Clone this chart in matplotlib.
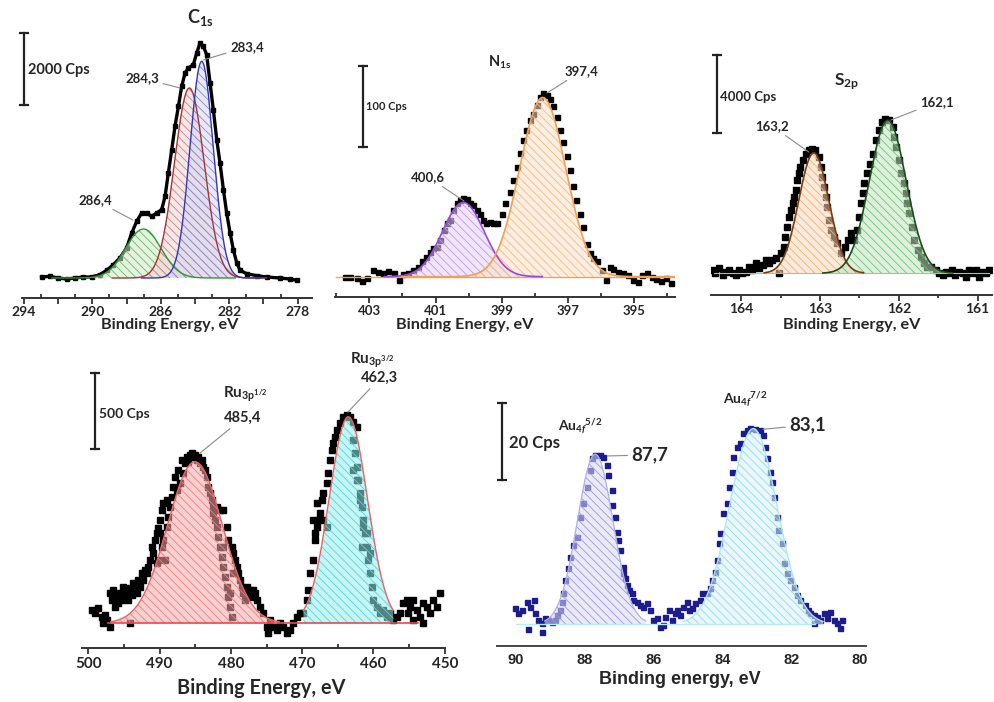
import numpy as np
import matplotlib
matplotlib.use('Agg')
import matplotlib.pyplot as plt
from matplotlib.ticker import FixedLocator, FuncFormatter

plt.rcParams['font.family'] = ['Lato', 'DejaVu Sans']
plt.rcParams['font.weight'] = 'bold'
plt.rcParams['mathtext.fontset'] = 'custom'
plt.rcParams['mathtext.rm'] = 'Lato:bold'
plt.rcParams['mathtext.bf'] = 'Lato:bold'
plt.rcParams['mathtext.it'] = 'Lato:bold:italic'
plt.rcParams['hatch.linewidth'] = 0.6

W, H = 994, 702
TXT = '#262626'

# ---------------- C1s ----------------
c1s_be = [292.97, 292.48, 291.99, 291.5, 291.02, 290.53, 290.04, 289.56, 289.17, 288.78,
          288.39, 288.0, 287.7, 287.41, 287.12, 286.83, 286.53, 286.24, 285.95, 285.75,
          285.56, 285.36, 285.17, 284.97, 284.78, 284.58, 284.39, 284.1, 283.9, 283.71,
          283.51, 283.32, 283.12, 282.93, 282.73, 282.54, 282.34, 282.15, 281.95, 281.76,
          281.56, 281.37, 280.98, 280.39, 279.81, 279.03, 278.44, 278.05]
c1s_cps = [1528, 1546, 1500, 1472, 1500, 1528, 1528, 1593, 1713, 1870,
           2056, 2333, 2750, 3074, 3306, 3306, 3213, 3306, 3398, 3769,
           4417, 5065, 5713, 6269, 6824, 7195, 7334, 7426, 7750, 8028,
           7936, 7704, 6917, 6176, 5343, 4695, 3954, 3306, 2750, 2287,
           1917, 1713, 1620, 1565, 1528, 1500, 1472, 1435]
c1s_center = [287.02, 284.33, 283.61]
c1s_height = [1361, 5278, 6019]
c1s_fwhm = [2.44, 2.05, 1.60]
c1s_base = 1500

# ---------------- N1s ----------------
n1s_be = [403.74, 403.58, 403.38, 403.23, 403.08, 402.88, 402.73, 402.58, 402.43, 402.27,
          402.12, 401.97, 401.82, 401.67, 401.52, 401.42, 401.29, 401.17, 401.07, 400.97,
          400.87, 400.74, 400.66, 400.56, 400.46, 400.36, 400.26, 400.16, 400.06, 399.96,
          399.86, 399.76, 399.66, 399.56, 399.46, 399.35, 399.25, 399.15, 399.0, 398.9,
          398.75, 398.65, 398.55, 398.45, 398.35, 398.25, 398.15, 398.05, 397.94, 397.84,
          397.74, 397.64, 397.54, 397.44, 397.34, 397.24, 397.14, 397.04, 396.94, 396.84,
          396.74, 396.64, 396.53, 396.43, 396.33, 396.23, 396.13, 395.98, 395.85, 395.73,
          395.63, 395.48, 395.33, 395.18, 395.02, 394.87, 394.77, 394.62, 394.47, 394.32,
          394.17, 394.02, 393.87]
n1s_cps = [249, 249, 248, 245, 248, 258, 256, 254, 257, 254,
           246, 253, 254, 258, 262, 269, 275, 280, 285, 287,
           295, 308, 317, 320, 333, 341, 345, 347, 346, 341,
           339, 333, 328, 320, 317, 318, 317, 316, 328, 341,
           355, 370, 386, 403, 419, 432, 444, 452, 463, 473,
           477, 475, 470, 461, 448, 432, 417, 399, 382, 362,
           345, 328, 312, 291, 279, 273, 269, 258, 246, 262,
           260, 256, 254, 252, 246, 244, 252, 254, 250, 247,
           245, 248, 242]
n1s_center = [400.16, 397.76]
n1s_height = [92, 222]
n1s_fwhm = [1.49, 1.64]
n1s_base = 250

# ---------------- S2p ----------------
s2p_be = [164.37, 164.33, 164.28, 164.24, 164.2, 164.16, 164.11, 164.07, 164.03, 163.99,
          163.94, 163.9, 163.86, 163.82, 163.78, 163.73, 163.69, 163.65, 163.61, 163.56,
          163.52, 163.5, 163.46, 163.44, 163.42, 163.39, 163.37, 163.35, 163.33, 163.31,
          163.29, 163.27, 163.25, 163.22, 163.18, 163.14, 163.1, 163.06, 163.01, 162.99,
          162.97, 162.95, 162.93, 162.91, 162.89, 162.86, 162.82, 162.78, 162.74, 162.69,
          162.65, 162.61, 162.57, 162.53, 162.5, 162.48, 162.46, 162.44, 162.4, 162.36,
          162.33, 162.29, 162.25, 162.21, 162.17, 162.12, 162.08, 162.06, 162.04, 162.0,
          161.97, 161.93, 161.91, 161.89, 161.87, 161.83, 161.81, 161.76, 161.72, 161.68,
          161.64, 161.59, 161.53, 161.49, 161.44, 161.4, 161.36, 161.32, 161.28, 161.23,
          161.19, 161.15, 161.11, 161.06, 161.02, 160.98, 160.94, 160.89, 160.85]
s2p_cps = [2170, 2000, 2255, 1915, 2085, 2170, 2000, 1915, 2170, 2000,
           2085, 2340, 2170, 2510, 2255, 2425, 2680, 2510, 2680, 2765,
           2000, 3020, 3360, 3870, 4380, 4890, 5230, 5570, 5910, 6250,
           6760, 7100, 7440, 7780, 8120, 8290, 8375, 8290, 7950, 7440,
           6930, 6420, 5910, 5400, 4720, 4210, 3870, 3530, 3020, 3360,
           3700, 4040, 3700, 4210, 4890, 5570, 6080, 6590, 7100, 7610,
           8120, 8800, 9310, 9735, 9905, 9820, 9480, 8970, 8460, 7780,
           7100, 6590, 6080, 5570, 5060, 4380, 3700, 3190, 2850, 2510,
           2340, 2340, 2170, 2000, 1915, 2085, 2000, 2170, 1915, 2085,
           2000, 1830, 2170, 2000, 2170, 1830, 2085, 2000, 2170]
s2p_center = [163.08, 162.14]
s2p_height = [6154, 7820]
s2p_fwhm = [0.45, 0.55]
s2p_base = 2000

# ---------------- Ru 3p ----------------
ru_be = [499.53, 499.07, 498.6, 498.13, 497.66, 497.43, 496.96, 496.73, 496.49, 496.26,
         496.03, 495.79, 495.56, 495.32, 495.09, 494.86, 494.62, 494.39, 494.16, 493.92,
         493.69, 493.45, 493.22, 492.99, 492.75, 494.16, 496.96, 497.9, 492.52, 492.29,
         492.05, 491.82, 491.58, 491.35, 491.12, 490.88, 490.65, 490.42, 490.42, 490.18,
         490.18, 489.95, 489.95, 489.72, 489.72, 489.48, 489.48, 489.25, 489.01, 489.01,
         488.78, 488.55, 488.31, 488.08, 487.84, 487.61, 487.38, 487.14, 486.91, 486.68,
         486.44, 486.21, 485.97, 485.74, 485.51, 485.27, 485.04, 484.81, 484.57, 484.34,
         484.1, 483.87, 483.64, 483.4, 483.17, 482.94, 482.7, 482.47, 482.47, 482.23,
         482.0, 482.0, 481.77, 481.53, 481.53, 481.3, 481.07, 481.07, 481.07, 480.83,
         480.6, 480.6, 480.36, 480.36, 480.13, 480.13, 479.9, 479.9, 479.66, 479.66,
         479.43, 479.2, 478.96, 478.73, 478.49, 478.26, 478.03, 477.79, 477.56, 477.33,
         477.09, 476.86, 476.62, 476.39, 475.92, 475.46, 474.99, 474.76, 474.52, 474.05,
         473.59, 473.12, 472.65, 472.18, 471.72, 471.25, 470.78, 470.31, 469.85, 469.38,
         469.15, 468.91, 468.44, 468.44, 468.21, 468.21, 467.98, 467.98, 467.74, 467.51,
         467.27, 467.04, 467.04, 466.57, 466.57, 466.34, 466.11, 465.87, 465.64, 465.4,
         465.17, 464.7, 464.24, 463.77, 463.3, 462.83, 462.37, 462.83, 462.83, 462.6,
         462.37, 462.37, 462.13, 461.9, 461.9, 461.67, 461.67, 461.43, 461.43, 461.2,
         460.96, 460.96, 460.73, 460.5, 460.5, 460.26, 460.03, 459.56, 459.09, 458.63,
         458.16, 457.69, 457.22, 456.76, 456.29, 455.82, 455.35, 455.12, 454.89, 454.42,
         454.42, 453.95, 453.48, 453.02, 453.02, 452.55, 452.08, 451.61, 451.15, 450.68]
ru_cps = [888, 866, 899, 844, 855, 822, 997, 954, 1019, 910,
          975, 932, 997, 954, 1041, 975, 1008, 954, 1030, 986,
          1063, 1019, 997, 1085, 1041, 800, 778, 800, 1129, 1085,
          1151, 1129, 1173, 1217, 1304, 1261, 1348, 1392, 1195, 1425,
          1217, 1480, 1392, 1546, 1304, 1590, 1348, 1217, 1611, 1436,
          1502, 1568, 1633, 1699, 1765, 1677, 1809, 1721, 1875, 1787,
          1853, 1897, 1864, 1907, 1918, 1897, 1907, 1875, 1897, 1853,
          1875, 1831, 1809, 1765, 1699, 1655, 1611, 1568, 1524, 1480,
          1436, 1568, 1370, 1304, 1546, 1239, 1173, 1546, 1304, 1107,
          1041, 1436, 975, 1348, 910, 997, 844, 1304, 1261, 1129,
          1217, 1173, 1129, 1085, 1041, 997, 954, 1041, 997, 1019,
          975, 1019, 997, 954, 910, 866, 778, 734, 822, 778,
          756, 800, 778, 734, 756, 800, 844, 866, 866, 954,
          1019, 1129, 1217, 1480, 1348, 1392, 1436, 1590, 1480, 1524,
          1611, 1655, 1480, 1721, 1436, 1787, 1875, 1940, 1984, 2028,
          2072, 2116, 2160, 2171, 2160, 2127, 2094, 2006, 1809, 1918,
          1831, 1743, 1743, 1655, 1611, 1568, 1304, 1480, 1436, 1392,
          1304, 1392, 1217, 1129, 1261, 1041, 954, 910, 866, 888,
          844, 866, 822, 844, 866, 932, 954, 866, 910, 954,
          822, 888, 844, 932, 800, 910, 866, 954, 910, 997]
ru_center = [485.04, 463.53]
ru_height = [1063, 1359]
ru_fwhm = [9.1, 6.3]
ru_base = 800

# ---------------- Au 4f ----------------
au_be = [90.01, 89.92, 89.82, 89.68, 89.63, 89.58, 89.48, 89.43, 89.34, 89.24,
         89.24, 89.14, 89.05, 88.95, 88.85, 88.81, 88.71, 88.66, 88.61, 88.56,
         88.47, 88.42, 88.32, 88.22, 88.13, 88.03, 87.93, 87.84, 87.79, 87.69,
         87.54, 87.45, 87.35, 87.31, 87.21, 87.21, 87.11, 87.06, 87.02, 86.97,
         86.87, 86.87, 86.82, 86.77, 86.72, 86.63, 86.58, 86.48, 86.39, 86.29,
         86.19, 86.1, 86.0, 85.9, 85.81, 85.71, 85.66, 85.56, 85.47, 85.37,
         85.32, 85.22, 85.13, 85.03, 84.98, 84.89, 84.79, 84.64, 84.6, 84.45,
         84.35, 84.31, 84.21, 84.16, 84.11, 84.06, 83.97, 83.87, 83.82, 83.73,
         83.68, 83.58, 83.48, 83.39, 83.29, 83.19, 83.05, 82.9, 82.81, 82.76,
         82.71, 82.61, 82.56, 82.51, 82.42, 82.37, 82.27, 82.22, 82.13, 82.03,
         81.93, 81.84, 81.74, 81.6, 81.5, 81.45, 81.35, 81.35, 81.26, 81.16,
         81.06, 80.97, 80.87, 80.77, 80.68, 80.58, 80.53]
au_cps = [34.05, 32.76, 33.62, 35.78, 28.62, 34.48, 36.21, 32.76, 31.03, 30.17,
          28.02, 31.47, 31.03, 30.6, 31.03, 32.33, 33.62, 35.78, 37.93, 41.38,
          44.4, 47.42, 50.44, 52.59, 57.77, 61.22, 65.53, 69.84, 72.86, 73.72,
          73.72, 73.29, 71.13, 68.54, 64.66, 60.78, 57.77, 53.89, 51.73, 49.14,
          44.83, 43.11, 41.81, 40.09, 38.8, 37.93, 36.21, 35.78, 34.91, 34.48,
          35.35, 33.62, 31.03, 31.47, 29.31, 29.74, 31.9, 33.62, 31.03, 32.76,
          33.62, 32.33, 34.48, 35.78, 33.62, 34.05, 35.35, 36.21, 37.93, 37.93,
          39.23, 41.38, 43.54, 46.56, 50.87, 53.45, 58.63, 61.22, 65.53, 69.41,
          73.29, 75.87, 76.74, 79.32, 80.19, 80.62, 80.36, 80.19, 78.89, 75.87,
          72.86, 69.41, 66.82, 62.94, 57.77, 54.32, 50.87, 45.69, 43.11, 41.38,
          39.66, 37.5, 36.21, 34.91, 33.62, 32.76, 32.33, 30.17, 31.9, 31.03,
          32.76, 31.47, 33.19, 31.03, 30.17, 28.88, 31.03]
au_center = [87.69, 83.10]
au_height = [43.98, 50.6]
au_fwhm = [1.22, 1.62]
au_base = 30

fig = plt.figure(figsize=(W / 100, H / 100), dpi=100)


def fx(x):
    return x / W


def fy(y):
    return 1 - y / H


def make_ax(x0, x1, y_axis, y_top, xlim, ylim, axcol='#333333'):
    ax = fig.add_axes([fx(x0), fy(y_axis), (x1 - x0) / W, (y_axis - y_top) / H])
    ax.set_xlim(*xlim)
    ax.set_ylim(*ylim)
    ax.patch.set_alpha(0)
    for s in ['top', 'right', 'left']:
        ax.spines[s].set_visible(False)
    ax.spines['bottom'].set_color(axcol)
    ax.spines['bottom'].set_linewidth(1.4)
    ax.yaxis.set_visible(False)
    return ax


def gauss(x, c, h, w):
    return h * np.exp(-4 * np.log(2) * (x - c) ** 2 / w ** 2)


def component(ax, c, h, w, base, fc, hc, lc, lw=1.0, alpha=0.55, k=2.2):
    x = np.linspace(c - k * w, c + k * w, 400)
    y = base + gauss(x, c, h, w)
    ax.fill_between(x, base, y, facecolor=fc, alpha=alpha, lw=0, zorder=3)
    ax.fill_between(x, base, y, facecolor='none', edgecolor=hc, hatch='\\\\\\\\', lw=0, zorder=3)
    ax.plot(x, y, color=lc, lw=lw, zorder=4)


def scale_bar(ax, x, y0, y1, label, fs, tx, ty):
    ax.plot([x, x], [y0, y1], color='#222222', lw=1.6, marker='_', ms=7, mew=1.6,
            zorder=5, clip_on=False)
    fig.text(fx(tx), fy(ty), label, fontsize=fs, color=TXT, ha='left', va='center')


def label(ax, text, xy, tpos, fs, lcol='#8a8a8a'):
    ax.annotate(text, xy=xy, xycoords='data', xytext=(fx(tpos[0]), fy(tpos[1])),
                textcoords='figure fraction', fontsize=fs, color=TXT, ha='center', va='center',
                arrowprops=dict(arrowstyle='-', color=lcol, lw=0.8, shrinkA=1, shrinkB=0),
                annotation_clip=False, zorder=6)


def ticks(ax, major, minor, fmt, fs, mdir='out', ndir='in', mlen=4, nlen=3, pad=2, family=None):
    ax.xaxis.set_major_locator(FixedLocator(major))
    ax.xaxis.set_minor_locator(FixedLocator(minor))
    ax.xaxis.set_major_formatter(FuncFormatter(fmt))
    ax.tick_params(axis='x', which='major', direction=mdir, length=mlen, width=1.3,
                   color='#333333', labelsize=fs, labelcolor=TXT, pad=pad)
    ax.tick_params(axis='x', which='minor', direction=ndir, length=nlen, width=1.3,
                   color='#333333')
    for t in ax.get_xticklabels():
        t.set_fontweight('bold')
        if family:
            t.set_family(family)


# ===== Panel 1: C1s =====
ax1 = make_ax(21.7, 311.7, 297.7, 0, (294.13, 277.18), (953, 9223))
ax1.plot(c1s_be, c1s_cps, color='black', lw=2.4, marker='s', ms=3.4, zorder=2)
component(ax1, c1s_center[0], c1s_height[0], c1s_fwhm[0], c1s_base, '#cfe9c8', '#6fb866', '#2f9a2f')
component(ax1, c1s_center[1], c1s_height[1], c1s_fwhm[1], c1s_base, '#f0d2d2', '#c48888', '#a53535')
component(ax1, c1s_center[2], c1s_height[2], c1s_fwhm[2], c1s_base, '#d6d6f2', '#8888cc', '#3535c0')
ticks(ax1, list(range(278, 295, 2)), list(range(279, 295, 2)),
      lambda v, p: f'{v:.0f}' if round(v - 278) % 4 == 0 else '', 10)
scale_bar(ax1, 294.0, 6306, 8306, '2000 Cps', 10.5, 28, 70)
fig.text(fx(200), fy(18), r'$\mathbf{C}_{\mathbf{1s}}$', fontsize=13, color=TXT, ha='center', va='center')
label(ax1, '283,4', (283.53, 7556), (247, 47), 9.5)
label(ax1, '284,3', (284.88, 6778), (142, 78), 9.5)
label(ax1, '286,4', (287.63, 3111), (95, 200), 9.5)
fig.text(fx(170), fy(325), 'Binding Energy, eV', fontsize=11.7, color=TXT, ha='center', va='center')

# ===== Panel 2: N1s =====
ax2 = make_ax(335, 675, 296.7, 0, (404.04, 393.76), (225.2, 592.8))
ax2.plot(n1s_be, n1s_cps, ls='none', color='black', marker='s', ms=3.6, zorder=2)
ax2.plot([404.0, 393.8], [n1s_base, n1s_base], color='#f0a050', lw=1.0, zorder=4)
component(ax2, n1s_center[0], n1s_height[0], n1s_fwhm[0], n1s_base, '#e6d0f8', '#c09ae8', '#9a48dc', lw=1.2, k=1.6)
component(ax2, n1s_center[1], n1s_height[1], n1s_fwhm[1], n1s_base, '#fde0c6', '#f0b888', '#f0a050', lw=1.2, k=2.6)
ticks(ax2, list(range(395, 404, 2)), list(range(394, 405, 2)), lambda v, p: f'{v:.0f}', 9.5)
scale_bar(ax2, 403.2, 411, 511, '100 Cps', 8, 366, 106)
fig.text(fx(500), fy(62), r'$\mathbf{N}_{\mathbf{1s}}$', fontsize=10.5, color=TXT, ha='center', va='center')
label(ax2, '397,4', (397.63, 477.6), (582, 71), 9.5)
label(ax2, '400,6', (400.14, 343.8), (428, 177), 9.5)
fig.text(fx(465), fy(325), 'Binding Energy, eV', fontsize=11.7, color=TXT, ha='center', va='center')

# ===== Panel 3: S2p =====
ax3 = make_ax(710.7, 991.7, 295, 0, (164.39, 160.82), (891, 15966))
ax3.plot(s2p_be, s2p_cps, ls='none', color='black', marker='s', ms=4.8, zorder=2)
ax3.plot([164.35, 160.85], [s2p_base, s2p_base], color='#90d090', lw=0.8, zorder=4)
component(ax3, s2p_center[0], s2p_height[0], s2p_fwhm[0], s2p_base, '#fcd8b8', '#eab080', '#7a3a10', lw=1.2, k=1.4)
component(ax3, s2p_center[1], s2p_height[1], s2p_fwhm[1], s2p_base, '#bfe6bf', '#78bd78', '#1d4d1d', lw=1.2, k=1.5)
ticks(ax3, [161, 162, 163, 164], [161.5, 162.5, 163.5], lambda v, p: f'{v:.0f}', 10,
      ndir='out', nlen=2.5)
scale_bar(ax3, 164.31, 9154, 13155, '4000 Cps', 9.5, 720, 97)
fig.text(fx(847), fy(82), r'$\mathbf{S}_{\mathbf{2p}}$', fontsize=12.5, color=TXT, ha='center', va='center')
label(ax3, '163,2', (163.145, 8198), (772, 126), 9.5)
label(ax3, '162,1', (162.1, 9834), (937, 102), 9.5)
fig.text(fx(852), fy(325), 'Binding Energy, eV', fontsize=11.7, color=TXT, ha='center', va='center')

# ===== Panel 4: Ru 3p =====
ax4 = make_ax(81.7, 445, 648.3, 330, (500.93, 449.97), (635.5, 2730))
ax4.plot(ru_be, ru_cps, ls='none', color='black', marker='s', ms=4.2, zorder=2)
ax4.plot([497.2, 453.7], [ru_base, ru_base], color='#f04848', lw=1.2, zorder=4)
component(ax4, ru_center[0], ru_height[0], ru_fwhm[0], ru_base, '#f7a8a8', '#ec8080', '#f06060', lw=1.0, k=1.3)
component(ax4, ru_center[1], ru_height[1], ru_fwhm[1], ru_base, '#94f0f0', '#60d0d8', '#f06060', lw=1.0, k=1.0)
ticks(ax4, list(range(450, 501, 10)), list(range(455, 500, 10)), lambda v, p: f'{v:.0f}', 11)
scale_bar(ax4, 499.06, 1947, 2447, '500 Cps', 10, 99, 414)
fig.text(fx(245), fy(394), r'$\mathbf{Ru}_{\mathbf{3p}^{\mathbf{1/2}}}$', fontsize=11, color=TXT, ha='center', va='center')
label(ax4, '485,4', (484.33, 1920), (243, 418), 10.5)
fig.text(fx(372), fy(360), r'$\mathbf{Ru}_{\mathbf{3p}^{\mathbf{3/2}}}$', fontsize=11, color=TXT, ha='center', va='center')
label(ax4, '462,3', (463.58, 2190), (380, 378), 10.5)
fig.text(fx(261), fy(688), 'Binding Energy, eV', fontsize=14.3, color=TXT, ha='center', va='center')

# ===== Panel 5: Au 4f =====
ax5 = make_ax(497, 866, 645.7, 330, (90.54, 79.83), (24.39, 106.1), axcol='#444444')
ax5.plot(au_be, au_cps, ls='none', color='#1c1c8c', marker='s', ms=3.6, zorder=2)
ax5.plot([90.0, 81.3], [au_base, au_base], color='#b8ecf4', lw=1.0, zorder=4)
component(ax5, au_center[0], au_height[0], au_fwhm[0], au_base, '#d8d8f4', '#9a9ad8', '#b0b0ea', lw=0.9, k=1.2)
component(ax5, au_center[1], au_height[1], au_fwhm[1], au_base, '#d6f2f6', '#98d8e4', '#a8e8f2', lw=0.9, k=1.25)
ticks(ax5, [80, 82, 84, 86, 88, 90], [], lambda v, p: f'{v:.0f}', 10.5, mlen=0, pad=5,
      family=['Liberation Sans', 'DejaVu Sans'])
scale_bar(ax5, 90.4, 67.25, 87.25, '20 Cps', 12, 509, 443)
fig.text(fx(580), fy(427), r'$\mathbf{Au}_{\mathit{4f}}{}^{\mathbf{5/2}}$', fontsize=10, color=TXT, ha='center', va='center')
label(ax5, '87,7', (87.34, 73.5), (650, 455), 13.5)
fig.text(fx(745), fy(400), r'$\mathbf{Au}_{\mathit{4f}}{}^{\mathbf{7/2}}$', fontsize=10, color=TXT, ha='center', va='center')
label(ax5, '83,1', (82.82, 80.4), (808, 425), 13.5)
fig.text(fx(680), fy(680), 'Binding energy, eV', fontsize=13, color=TXT, ha='center', va='center',
         family=['Liberation Sans', 'DejaVu Sans'])

fig.savefig('out.png', dpi=100)
